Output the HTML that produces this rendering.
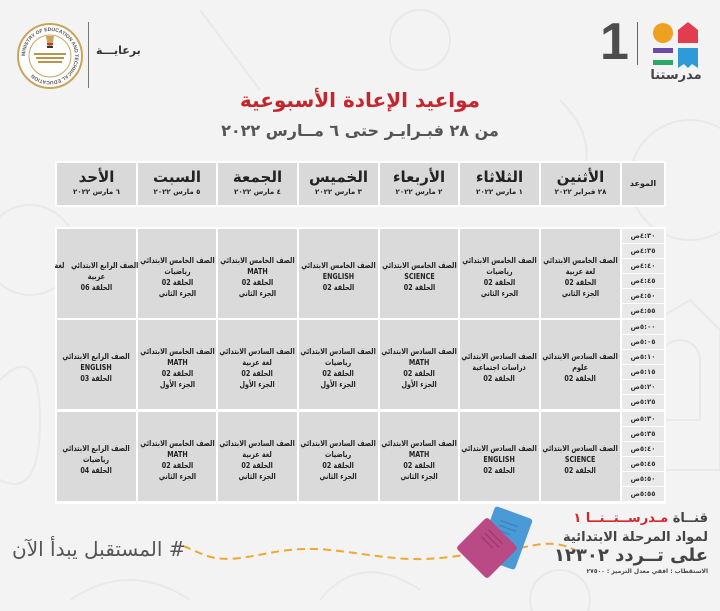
<!DOCTYPE html>
<html lang="ar">
<head>
<meta charset="utf-8">
<style>
  html,body{margin:0;padding:0;}
  body{width:720px;height:611px;position:relative;overflow:hidden;background:#f3f3f3;
       font-family:"DejaVu Sans","Liberation Sans",sans-serif;}
  .abs{position:absolute;}
  .hd{position:absolute;background:#d9d9d9;top:163px;height:42px;text-align:center;color:#222;}
  .hd .d{font-weight:bold;font-size:15px;line-height:17px;margin-top:6px;white-space:nowrap;}
  .hd .t{font-weight:bold;font-size:7px;line-height:9px;margin-top:2px;white-space:nowrap;}
  .c{position:absolute;background:#dadada;display:flex;align-items:center;justify-content:center;
     text-align:center;font-weight:bold;font-size:8px;line-height:11px;color:#222;direction:rtl;white-space:nowrap;}
  .c div{padding-top:6px;transform:scaleX(0.8);}
  .tm{position:absolute;left:622px;width:42px;height:14px;background:#e9e9e9;font-size:7px;font-weight:bold;
      line-height:14px;text-align:center;color:#333;direction:ltr;white-space:nowrap;}
</style>
</head>
<body>

<!-- faint background pattern -->
<svg class="abs" style="left:0;top:0" width="720" height="611">
  <g fill="none" stroke="#e9e9e9" stroke-width="2">
    <circle cx="690" cy="180" r="60"/>
    <path d="M640 330 L690 300 L720 330 L720 470 L640 470 Z"/>
    <path d="M660 360 a20 20 0 0 1 40 0 v60 h-40 z"/>
    <circle cx="30" cy="250" r="45"/>
    <path d="M0 380 q40 -40 40 40 t-40 60"/>
    <path d="M200 10 l60 80"/>
    <circle cx="420" cy="40" r="30"/>
    <path d="M560 100 q40 40 20 80"/>
    <path d="M70 600 q60 -40 120 0"/>
    <path d="M320 600 q40 -50 100 -10"/>
    <circle cx="560" cy="600" r="30"/>
  </g>
</svg>

<!-- top right logo -->
<div class="abs" style="left:600px;top:12px;font-family:'Liberation Sans',sans-serif;font-weight:bold;font-size:52px;line-height:60px;color:#4d4d4d;">1</div>
<div class="abs" style="left:637px;top:22px;width:1px;height:43px;background:#666;"></div>
<svg class="abs" style="left:650px;top:20px" width="55" height="50">
  <circle cx="13" cy="13" r="10" fill="#f0a020"/>
  <path d="M28 10 L38 2 L48 10 L48 23 L28 23 Z" fill="#e23c50"/>
  <rect x="3" y="28" width="20" height="5" fill="#6a4aa8"/>
  <rect x="3" y="40" width="20" height="5" fill="#2aa86a"/>
  <path d="M28 28 L48 28 L48 48 L42 44 L38 48 L34 44 L28 48 Z" fill="#2e9ad8"/>
</svg>
<div class="abs" style="left:648px;top:66px;width:56px;text-align:center;font-weight:bold;font-size:13px;line-height:20px;color:#444;direction:rtl;">مدرستنا</div>

<!-- top left emblem -->
<svg class="abs" style="left:16px;top:22px" width="68" height="68">
  <defs><path id="circ" d="M34 34 m-25 0 a25 25 0 1 1 50 0 a25 25 0 1 1 -50 0"/></defs>
  <circle cx="34" cy="34" r="32" fill="#fff" stroke="#c9a55c" stroke-width="2"/>
  <circle cx="34" cy="34" r="21" fill="#fff" stroke="#c9a55c" stroke-width="1"/>
  <text font-size="5" font-family="Liberation Sans" font-weight="bold" fill="#555"><textPath href="#circ">MINISTRY OF EDUCATION AND TECHNICAL EDUCATION</textPath></text>
  <path d="M30 14 L38 14 L36 26 L32 26 Z" fill="#c9a55c"/>
  <rect x="31" y="21" width="6" height="2" fill="#c33"/>
  <rect x="31" y="24" width="6" height="2" fill="#333"/>
  <path d="M18 32 h32 M20 36 h28 M22 40 h24" stroke="#b8954c" stroke-width="2"/>
</svg>
<div class="abs" style="left:88px;top:22px;width:1px;height:66px;background:#777;"></div>
<div class="abs" style="left:96px;top:44px;font-size:11px;font-weight:bold;color:#333;direction:rtl;white-space:nowrap;">برعايـــة</div>

<!-- titles -->
<div class="abs" style="left:0;top:87px;width:720px;text-align:center;font-weight:bold;font-size:20px;line-height:26px;color:#c4262e;direction:rtl;white-space:nowrap;">مواعيد الإعادة الأسبوعية</div>
<div class="abs" style="left:0;top:118px;width:720px;text-align:center;font-weight:bold;font-size:16px;line-height:26px;color:#555;direction:rtl;white-space:nowrap;">من ٢٨ فبـرايـر حتى ٦ مــارس ٢٠٢٢</div>

<!-- table white backdrops -->
<div class="abs" style="left:55px;top:161px;width:611px;height:46px;background:#fff;"></div>
<div class="abs" style="left:55px;top:227px;width:611px;height:277px;background:#fff;"></div>

<!-- header row -->
<div class="hd" style="left:622px;width:42px;"><div style="font-weight:bold;font-size:8px;line-height:42px;">الموعد</div></div>
<div class="hd" style="left:541px;width:79px;"><div class="d">الأثنين</div><div class="t">٢٨ فبراير ٢٠٢٢</div></div>
<div class="hd" style="left:460px;width:79px;"><div class="d">الثلاثاء</div><div class="t">١ مارس ٢٠٢٢</div></div>
<div class="hd" style="left:380px;width:78px;"><div class="d">الأربعاء</div><div class="t">٢ مارس ٢٠٢٢</div></div>
<div class="hd" style="left:299px;width:79px;"><div class="d">الخميس</div><div class="t">٣ مارس ٢٠٢٢</div></div>
<div class="hd" style="left:218px;width:79px;"><div class="d">الجمعة</div><div class="t">٤ مارس ٢٠٢٢</div></div>
<div class="hd" style="left:138px;width:78px;"><div class="d">السبت</div><div class="t">٥ مارس ٢٠٢٢</div></div>
<div class="hd" style="left:57px;width:79px;"><div class="d">الأحد</div><div class="t">٦ مارس ٢٠٢٢</div></div>

<!-- time cells -->
<div class="tm" style="top:229px;">٤:٣٠ص</div>
<div class="tm" style="top:244px;">٤:٣٥ص</div>
<div class="tm" style="top:259px;">٤:٤٠ص</div>
<div class="tm" style="top:274px;">٤:٤٥ص</div>
<div class="tm" style="top:289px;">٤:٥٠ص</div>
<div class="tm" style="top:304px;">٤:٥٥ص</div>

<div class="tm" style="top:320px;">٥:٠٠ص</div>
<div class="tm" style="top:335px;">٥:٠٥ص</div>
<div class="tm" style="top:350px;">٥:١٠ص</div>
<div class="tm" style="top:365px;">٥:١٥ص</div>
<div class="tm" style="top:380px;">٥:٢٠ص</div>
<div class="tm" style="top:395px;">٥:٢٥ص</div>

<div class="tm" style="top:412px;">٥:٣٠ص</div>
<div class="tm" style="top:427px;">٥:٣٥ص</div>
<div class="tm" style="top:442px;">٥:٤٠ص</div>
<div class="tm" style="top:457px;">٥:٤٥ص</div>
<div class="tm" style="top:472px;">٥:٥٠ص</div>
<div class="tm" style="top:487px;">٥:٥٥ص</div>

<!-- block 1 -->
<div class="c" style="left:541px;top:229px;width:79px;height:89px;"><div>الصف الخامس الابتدائي<br>لغة عربية<br>الحلقة 02<br>الجزء الثاني</div></div>
<div class="c" style="left:460px;top:229px;width:79px;height:89px;"><div>الصف الخامس الابتدائي<br>رياضيات<br>الحلقة 02<br>الجزء الثاني</div></div>
<div class="c" style="left:380px;top:229px;width:78px;height:89px;"><div>الصف الخامس الابتدائي<br>SCIENCE<br>الحلقة 02</div></div>
<div class="c" style="left:299px;top:229px;width:79px;height:89px;"><div>الصف الخامس الابتدائي<br>ENGLISH<br>الحلقة 02</div></div>
<div class="c" style="left:218px;top:229px;width:79px;height:89px;"><div>الصف الخامس الابتدائي<br>MATH<br>الحلقة 02<br>الجزء الثاني</div></div>
<div class="c" style="left:138px;top:229px;width:78px;height:89px;"><div>الصف الخامس الابتدائي<br>رياضيات<br>الحلقة 02<br>الجزء الثاني</div></div>
<div class="c" style="left:57px;top:229px;width:79px;height:89px;"><div>الصف الرابع الابتدائي &nbsp; لغة<br>عربية<br>الحلقة 06</div></div>

<!-- block 2 -->
<div class="c" style="left:541px;top:320px;width:79px;height:89px;"><div>الصف السادس الابتدائي<br>علوم<br>الحلقة 02</div></div>
<div class="c" style="left:460px;top:320px;width:79px;height:89px;"><div>الصف السادس الابتدائي<br>دراسات اجتماعية<br>الحلقة 02</div></div>
<div class="c" style="left:380px;top:320px;width:78px;height:89px;"><div>الصف السادس الابتدائي<br>MATH<br>الحلقة 02<br>الجزء الأول</div></div>
<div class="c" style="left:299px;top:320px;width:79px;height:89px;"><div>الصف السادس الابتدائي<br>رياضيات<br>الحلقة 02<br>الجزء الأول</div></div>
<div class="c" style="left:218px;top:320px;width:79px;height:89px;"><div>الصف السادس الابتدائي<br>لغة عربية<br>الحلقة 02<br>الجزء الأول</div></div>
<div class="c" style="left:138px;top:320px;width:78px;height:89px;"><div>الصف الخامس الابتدائي<br>MATH<br>الحلقة 02<br>الجزء الأول</div></div>
<div class="c" style="left:57px;top:320px;width:79px;height:89px;"><div>الصف الرابع الابتدائي<br>ENGLISH<br>الحلقة 03</div></div>

<!-- block 3 -->
<div class="c" style="left:541px;top:412px;width:79px;height:89px;"><div>الصف السادس الابتدائي<br>SCIENCE<br>الحلقة 02</div></div>
<div class="c" style="left:460px;top:412px;width:79px;height:89px;"><div>الصف السادس الابتدائي<br>ENGLISH<br>الحلقة 02</div></div>
<div class="c" style="left:380px;top:412px;width:78px;height:89px;"><div>الصف السادس الابتدائي<br>MATH<br>الحلقة 02<br>الجزء الثاني</div></div>
<div class="c" style="left:299px;top:412px;width:79px;height:89px;"><div>الصف السادس الابتدائي<br>رياضيات<br>الحلقة 02<br>الجزء الثاني</div></div>
<div class="c" style="left:218px;top:412px;width:79px;height:89px;"><div>الصف السادس الابتدائي<br>لغة عربية<br>الحلقة 02<br>الجزء الثاني</div></div>
<div class="c" style="left:138px;top:412px;width:78px;height:89px;"><div>الصف الخامس الابتدائي<br>MATH<br>الحلقة 02<br>الجزء الثاني</div></div>
<div class="c" style="left:57px;top:412px;width:79px;height:89px;"><div>الصف الرابع الابتدائي<br>رياضيات<br>الحلقة 04</div></div>

<!-- footer: dashed curve and books -->
<svg class="abs" style="left:0;top:500px" width="720" height="111">
  <path d="M183 46 C 200 52, 210 62, 240 58 S 290 46, 330 50 S 400 62, 440 58 S 470 52, 490 50" fill="none" stroke="#f0a830" stroke-width="2" stroke-dasharray="8 5"/>
  <path d="M520 48 C 540 44, 555 40, 575 50" fill="none" stroke="#f0a830" stroke-width="2" stroke-dasharray="8 5"/>
  <g transform="translate(505 38) rotate(20)">
    <rect x="-20" y="-27" width="40" height="54" rx="3" fill="#4a9ad8"/>
    <path d="M-10 -15 h18 M-10 -10 h18 M-10 -5 h14" stroke="#3a86c0" stroke-width="1.5"/>
  </g>
  <g transform="translate(487 48) rotate(45)">
    <rect x="-22" y="-22" width="44" height="44" rx="3" fill="#b94a86"/>
    <path d="M-12 -14 h20 M-12 -9 h20 M-12 -4 h16" stroke="#9d3a6e" stroke-width="1.5"/>
  </g>
</svg>

<div class="abs" style="left:12px;top:536px;font-size:20px;line-height:26px;color:#555;direction:rtl;white-space:nowrap;"># المستقبل يبدأ الآن</div>

<div class="abs" style="right:12px;top:509px;text-align:right;direction:rtl;white-space:nowrap;font-weight:bold;font-size:13px;line-height:19px;color:#444;">قنــاة <span style="color:#d8262f;">مـدرســتــنــا ١</span></div>
<div class="abs" style="right:12px;top:528px;text-align:right;direction:rtl;white-space:nowrap;font-weight:bold;font-size:13px;line-height:19px;color:#444;">لمواد المرحلة الابتدائية</div>
<div class="abs" style="right:12px;top:545px;text-align:right;direction:rtl;white-space:nowrap;font-weight:bold;font-size:18px;line-height:22px;color:#444;">على تــردد ١٢٣٠٢</div>
<div class="abs" style="right:12px;top:568px;text-align:right;direction:rtl;white-space:nowrap;font-weight:bold;font-size:6px;line-height:8px;color:#444;">الاستقطاب : افقي معدل الترميز : ٢٧٥٠٠</div>

</body>
</html>
